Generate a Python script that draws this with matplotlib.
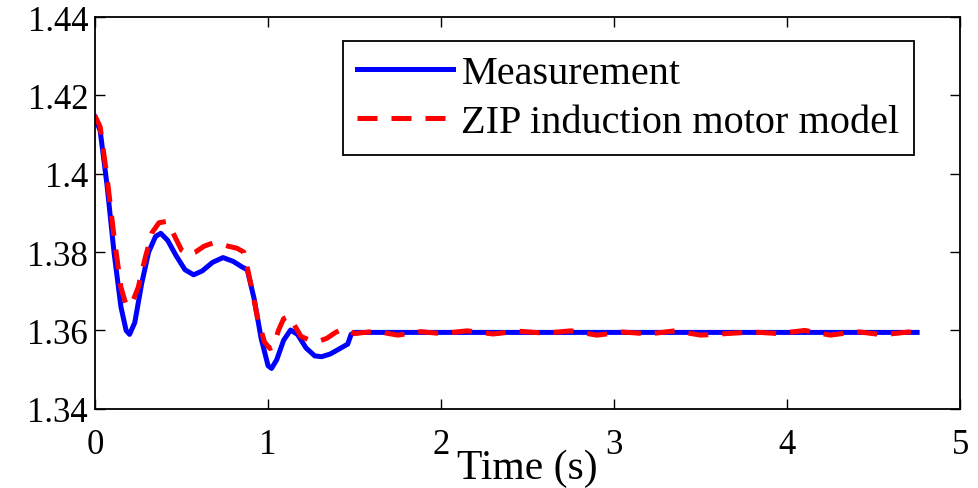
import matplotlib
matplotlib.use("Agg")
import matplotlib.pyplot as plt

# values
t_meas = [0.0, 0.03, 0.07, 0.11, 0.15, 0.18, 0.2, 0.23, 0.27, 0.31, 0.35, 0.38, 0.42, 0.47, 0.52, 0.57,
          0.62, 0.68, 0.74, 0.8, 0.85, 0.88, 0.92, 0.96, 1.0, 1.02, 1.05, 1.09, 1.13, 1.17, 1.22, 1.27,
          1.31, 1.36, 1.42, 1.46, 1.48, 1.5, 2.0, 3.0, 4.0, 4.75]
v_meas = [1.4145, 1.411, 1.397, 1.380, 1.366, 1.360, 1.359, 1.362, 1.372, 1.380, 1.384, 1.3848, 1.383, 1.379,
          1.3755, 1.3742, 1.3752, 1.3774, 1.3786, 1.3776, 1.3762, 1.3755, 1.368, 1.358, 1.351, 1.3503, 1.3525,
          1.3575, 1.3601, 1.359, 1.3555, 1.3535, 1.3533, 1.354, 1.3555, 1.3565, 1.359, 1.3595, 1.3595, 1.3595,
          1.3595, 1.3595]

t_model = [0.0, 0.03, 0.07, 0.11, 0.15, 0.18, 0.21, 0.25, 0.29, 0.33, 0.37, 0.41, 0.45, 0.5, 0.54, 0.58,
           0.63, 0.68, 0.72, 0.77, 0.82, 0.86, 0.9, 0.94, 0.98, 1.01, 1.03, 1.06, 1.09, 1.12, 1.15, 1.19,
           1.24, 1.29, 1.34, 1.39, 1.44, 1.5, 1.62, 1.75, 1.88, 2.0, 2.15, 2.3, 2.45, 2.6, 2.75, 2.9,
           3.05, 3.2, 3.35, 3.5, 3.65, 3.8, 3.95, 4.1, 4.25, 4.4, 4.55, 4.7, 4.75]
v_model = [1.4148, 1.412, 1.399, 1.384, 1.371, 1.3665, 1.3665, 1.371, 1.3785, 1.385, 1.3875, 1.3878, 1.385,
           1.3805, 1.3793, 1.380, 1.3815, 1.3823, 1.3822, 1.3815, 1.381, 1.380, 1.372, 1.363, 1.357, 1.3554,
           1.3558, 1.360, 1.363, 1.3636, 1.3615, 1.3585, 1.3575, 1.3572, 1.358, 1.3595, 1.3605, 1.3592,
           1.3598, 1.3588, 1.3597, 1.3592, 1.3599, 1.3591, 1.3598, 1.3593, 1.3599, 1.3588, 1.3596, 1.3591,
           1.3599, 1.3588, 1.3592, 1.3596, 1.3592, 1.3600, 1.3588, 1.3597, 1.3589, 1.3596, 1.3594]

plt.rcParams["font.family"] = ["Liberation Serif", "DejaVu Serif"]

fig = plt.figure(figsize=(9.79, 4.89), dpi=100)
ax = fig.add_axes([0.097, 0.162, 0.884, 0.801])

ax.plot(t_meas, v_meas, color="#0000ff", lw=3.6, label="Measurement", solid_joinstyle="round")
ax.plot(t_model, v_model, color="#ff0000", lw=3.6, ls=(0, (4.0, 2.8)), label="ZIP induction motor model")

ax.set_xlim(0, 5)
ax.set_ylim(1.34, 1.44)
ax.set_xticks([0, 1, 2, 3, 4, 5])
ax.set_yticks([1.34, 1.36, 1.38, 1.40, 1.42, 1.44])
ax.set_yticklabels(["1.34", "1.36", "1.38", "1.4", "1.42", "1.44"])
ax.tick_params(direction="in", top=True, right=True, length=7, width=1, labelsize=25)
ax.tick_params(axis="x", pad=14)
ax.tick_params(axis="y", pad=5)
for s in ax.spines.values():
    s.set_linewidth(1.3)

ax.set_xlabel("Time (s)", fontsize=30, labelpad=-9)

leg = ax.legend(loc="upper right", bbox_to_anchor=(0.946, 0.94), fontsize=29, frameon=True,
                fancybox=False, edgecolor="black", framealpha=1, handlelength=2.4,
                borderpad=0.35, labelspacing=0.3, handletextpad=0.2, borderaxespad=0)
leg.get_frame().set_linewidth(1.3)

fig.savefig("out.png", dpi=100)
